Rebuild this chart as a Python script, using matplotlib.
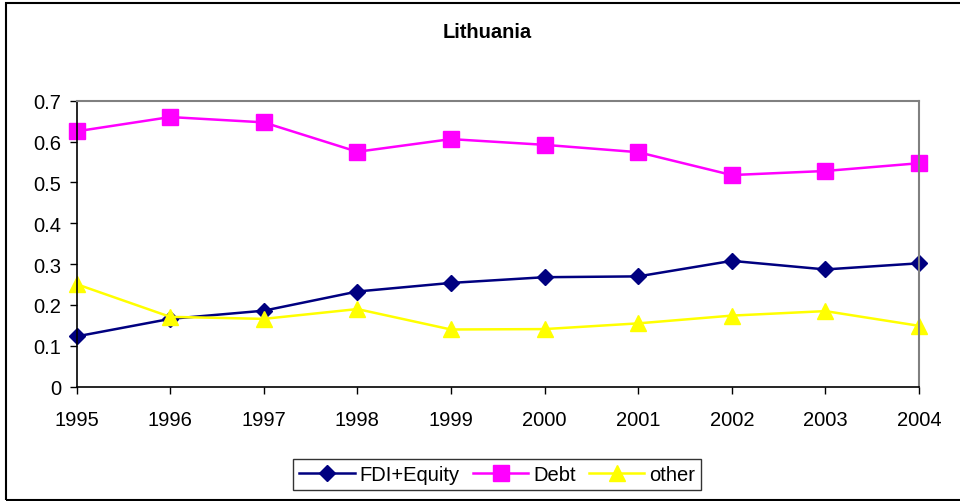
import numpy as np
import matplotlib
import matplotlib.pyplot as plt
from matplotlib.patches import Rectangle

plt.rcParams['font.family'] = ['Liberation Sans', 'DejaVu Sans']

years = [1995, 1996, 1997, 1998, 1999, 2000, 2001, 2002, 2003, 2004]
fdi_equity = [0.123, 0.166, 0.186, 0.233, 0.254, 0.268, 0.270, 0.308, 0.287, 0.302]
debt = [0.625, 0.660, 0.647, 0.575, 0.606, 0.592, 0.574, 0.518, 0.528, 0.547]
other = [0.251, 0.171, 0.166, 0.190, 0.140, 0.141, 0.155, 0.174, 0.185, 0.149]

fig = plt.figure(figsize=(9.6, 5.02), dpi=100)
ax = fig.add_axes([0.0797, 0.2277, 0.8776, 0.5697])

ax.plot(years, fdi_equity, color='#000080', marker='D', markersize=8, linewidth=1.8, label='FDI+Equity')
ax.plot(years, debt, color='#FF00FF', marker='s', markersize=11, linewidth=1.8, label='Debt')
ax.plot(years, other, color='#FFFF00', marker='^', markersize=11, linewidth=1.8, label='other')

ax.set_xlim(1995, 2004)
ax.set_ylim(0, 0.7)
ax.set_xticks(years)
ax.set_yticks(np.arange(0, 0.71, 0.1))
ax.set_yticklabels(['0', '0.1', '0.2', '0.3', '0.4', '0.5', '0.6', '0.7'])
ax.tick_params(axis='both', labelsize=14.5, direction='out', length=5, width=1, color='black')
ax.tick_params(axis='x', pad=12)
ax.tick_params(axis='y', pad=6)
for s in ['top', 'right']:
    ax.spines[s].set_color('#808080')
    ax.spines[s].set_linewidth(1.5)
for s in ['left', 'bottom']:
    ax.spines[s].set_color('black')
    ax.spines[s].set_linewidth(1.2)
for line in ax.get_lines():
    line.set_clip_on(False)

fig.text(0.507, 0.936, 'Lithuania', ha='center', va='center', fontsize=14.5, fontweight='bold')

leg = fig.legend(loc='center', bbox_to_anchor=(0.518, 0.052), ncol=3, fontsize=14.5,
                 frameon=True, fancybox=False, edgecolor='black', borderpad=0.3,
                 handlelength=2.75, columnspacing=0.65, handletextpad=0.25)
leg.get_frame().set_linewidth(1.0)

fig.patches.append(Rectangle((6 / 960, 1 / 502), 1.0, 497 / 502, transform=fig.transFigure,
                             fill=False, edgecolor='black', linewidth=1.5))

fig.savefig('out.png', dpi=100)
